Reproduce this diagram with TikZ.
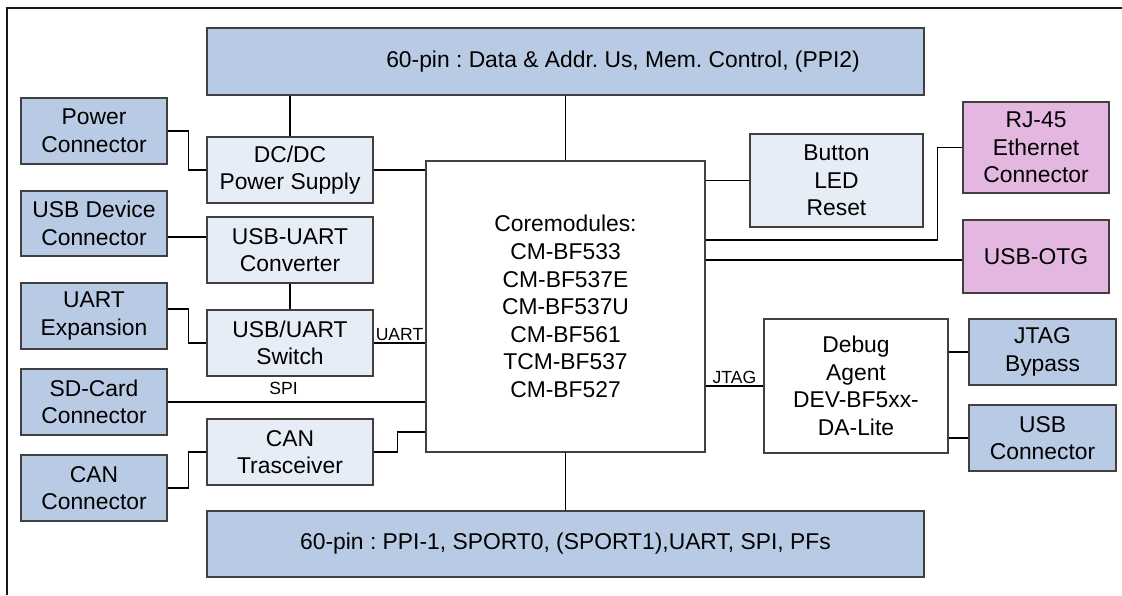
\documentclass[tikz,border=0pt]{standalone}
\usepackage{fontspec}
\setmainfont{Liberation Sans}
\frenchspacing
\newlength\pxu
\setlength\pxu{0.02cm}
\definecolor{dkfill}{HTML}{B9CBE4}
\definecolor{ltfill}{HTML}{E6EDF7}
\definecolor{pkfill}{HTML}{E4B7E1}
\definecolor{bordc}{HTML}{404040}
\tikzset{
  blk/.style={draw=bordc, line width=0.6pt, inner sep=0pt, align=center,
              font=\fontsize{13}{15.7}\selectfont},
  dk/.style={blk, fill=dkfill},
  lt/.style={blk, fill=ltfill},
  pk/.style={blk, fill=pkfill},
  wt/.style={blk, fill=white},
  sz/.style 2 args={minimum width=#1\pxu, minimum height=#2\pxu},
  wire/.style={draw=black, line width=0.9pt},
  lbl/.style={font=\fontsize{10}{12}\selectfont, inner sep=1pt, anchor=south}
}
\begin{document}
\begin{tikzpicture}[x=0.02cm, y=-0.02cm]
\useasboundingbox (0,0) rectangle (1122,595);
\draw[line width=1.3pt, black!90] (7,595) -- (7,8) -- (1122,8);

% buses
\node[dk, sz={717}{67}] (top) at (565.5,61.5) {\hspace*{2.3cm}60-pin : Data \& Addr. Us, Mem. Control, (PPI2)};
\node[dk, sz={717}{66}] (bot) at (565.5,544) {60-pin : PPI-1, SPORT0, (SPORT1),UART, SPI, PFs};

% core
\node[wt, sz={279}{291}] (core) at (565.5,306.5) {Coremodules:\\CM-BF533\\CM-BF537E\\CM-BF537U\\CM-BF561\\TCM-BF537\\CM-BF527};

% left column connectors
\node[dk, sz={146}{66}] (pwr) at (94,131) {Power\\Connector};
\node[dk, sz={146}{65}] (usbdev) at (94,223.5) {USB Device\\Connector};
\node[dk, sz={146}{66}] (uartexp) at (94,316) {UART\\Expansion};
\node[dk, sz={146}{66}] (sd) at (94,402) {SD-Card\\Connector};
\node[dk, sz={146}{66}] (canc) at (94,488) {CAN\\Connector};

% left inner column
\node[lt, sz={166}{66}] (dcdc) at (290,170) {DC/DC\\Power Supply};
\node[lt, sz={166}{66}] (usbuart) at (290,250) {USB-UART\\Converter};
\node[lt, sz={166}{66}] (sw) at (290,343) {USB/UART\\Switch};
\node[lt, sz={166}{66}] (cantr) at (290,452) {CAN\\Trasceiver};

% right side
\node[lt, sz={173}{93}] (btn) at (836.5,180.5) {Button\\LED\\Reset};
\node[pk, sz={146}{91}] (rj) at (1036,147.5) {RJ-45\\Ethernet\\Connector};
\node[pk, sz={146}{73}] (otg) at (1036,256.5) {USB-OTG};
\node[wt, sz={184}{134}] (dbg) at (856,386) {Debug\\Agent\\DEV-BF5xx-\\DA-Lite};
\node[dk, sz={147}{66}] (jtagb) at (1042.5,352) {JTAG\\Bypass};
\node[dk, sz={147}{66}] (usbc) at (1042.5,438) {USB\\Connector};

% wires
\draw[wire] (top.south -| dcdc.north) -- (dcdc.north);
\draw[wire] (top.south -| core.north) -- (core.north);
\draw[wire] (core.south) -- (bot.north -| core.south);
\draw[wire] (pwr.east) -- ++(21,0) |- (dcdc.west);
\draw[wire] (dcdc.east) -- (core.west |- dcdc.east);
\draw[wire] (usbdev.east |- 0,237) -- (usbuart.west |- 0,237);
\draw[wire] (usbuart.south) -- (sw.north);
\draw[wire] (uartexp.east |- 0,309) -- ++(21,0) |- (sw.west);
\draw[wire] (sw.east) -- node[lbl] {UART} (core.west |- sw.east);
\draw[wire] (sd.east) -- node[lbl, pos=0.45, yshift=3pt] {SPI} (core.west |- sd.east);
\draw[wire] (cantr.east) -- ++(24,0) |- (core.west |- 0,432);
\draw[wire] (canc.east) -- ++(21,0) |- (cantr.west);
\draw[wire] (core.east |- btn.west) -- (btn.west);
\draw[wire] (core.east |- 0,240) -- ++(232,0) |- (rj.west);
\draw[wire] (core.east |- 0,260) -- (otg.west |- 0,260);
\draw[wire] (core.east |- 0,386) -- node[lbl] {JTAG} (dbg.west |- 0,386);
\draw[wire] (dbg.east |- jtagb.west) -- (jtagb.west);
\draw[wire] (dbg.east |- usbc.west) -- (usbc.west);
\end{tikzpicture}
\end{document}
